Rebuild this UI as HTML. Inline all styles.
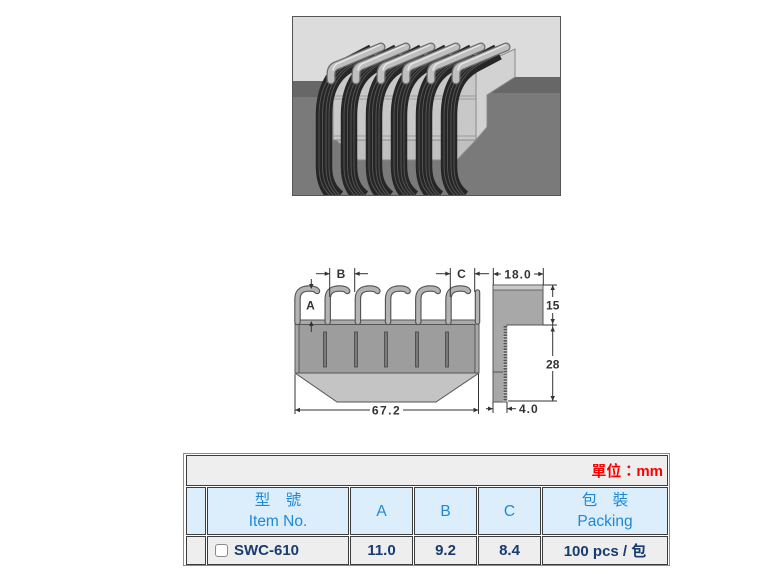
<!DOCTYPE html>
<html><head><meta charset="utf-8">
<style>
html,body{margin:0;padding:0;background:#fff;width:765px;height:574px;overflow:hidden;position:relative;font-family:"Liberation Sans","Noto Sans CJK TC",sans-serif;}
.c{position:absolute;box-sizing:border-box;border:1px solid #3c3c3c;display:flex;align-items:center;justify-content:center;text-align:center;}
.h{background:#dceefc;color:#1e88d8;font-size:15.5px;line-height:21px;}
.r{background:#eeeeee;color:#183b70;font-weight:bold;font-size:15px;}
.cb{display:inline-block;width:11px;height:11px;border:1px solid #8a8a8a;border-radius:3px;background:#fff;margin-right:6px;}
svg text{font-family:"Liberation Sans",sans-serif;font-weight:bold;fill:#333;}
</style></head><body>
<svg width="765" height="574" style="position:absolute;left:0;top:0" xmlns="http://www.w3.org/2000/svg">
<defs>
<clipPath id="ci"><rect x="293" y="17" width="267" height="178"/></clipPath>
<path id="bp" d="M373 52 L352 63 C334 72 324 88 324 116 L324 166 C324 182 329 191 338 198"/>
</defs>
<!-- TOP ILLUSTRATION -->
<g clip-path="url(#ci)">
<rect x="293" y="17" width="267" height="178" fill="#dcdcdc"/>
<rect x="293" y="81" width="200" height="16" fill="#676767"/>
<rect x="293" y="97" width="200" height="98" fill="#7a7a7a"/>
<rect x="487" y="77" width="73" height="16" fill="#676767"/>
<rect x="487" y="93" width="73" height="102" fill="#7a7a7a"/>
<rect x="333" y="72" width="143" height="68" fill="#c8c8c8" stroke="#8a8a8a"/>
<polygon points="336,140 476,140 457,160 358,160" fill="#c0c0c0" stroke="#8a8a8a"/>
<polygon points="476,67 515,49 515,77 487,95 487,127 476,140" fill="#d2d2d2" stroke="#8a8a8a"/>
<line x1="333" y1="96" x2="476" y2="96" stroke="#9a9a9a"/>
<line x1="333" y1="99" x2="476" y2="99" stroke="#9a9a9a"/>
<line x1="333" y1="136" x2="476" y2="136" stroke="#9a9a9a"/>
<g fill="none">
<g transform="translate(0,0)"><use href="#bp" stroke="#262626" stroke-width="16.5"/><g stroke="#575757" stroke-width="0.9"><use href="#bp" transform="translate(-5,0)"/><use href="#bp" transform="translate(-1.5,0)"/><use href="#bp" transform="translate(2,0)"/><use href="#bp" transform="translate(5,0)"/></g></g>
<g transform="translate(25,0)"><use href="#bp" stroke="#262626" stroke-width="16.5"/><g stroke="#575757" stroke-width="0.9"><use href="#bp" transform="translate(-5,0)"/><use href="#bp" transform="translate(-1.5,0)"/><use href="#bp" transform="translate(2,0)"/><use href="#bp" transform="translate(5,0)"/></g></g>
<g transform="translate(50,0)"><use href="#bp" stroke="#262626" stroke-width="16.5"/><g stroke="#575757" stroke-width="0.9"><use href="#bp" transform="translate(-5,0)"/><use href="#bp" transform="translate(-1.5,0)"/><use href="#bp" transform="translate(2,0)"/><use href="#bp" transform="translate(5,0)"/></g></g>
<g transform="translate(75,0)"><use href="#bp" stroke="#262626" stroke-width="16.5"/><g stroke="#575757" stroke-width="0.9"><use href="#bp" transform="translate(-5,0)"/><use href="#bp" transform="translate(-1.5,0)"/><use href="#bp" transform="translate(2,0)"/><use href="#bp" transform="translate(5,0)"/></g></g>
<g transform="translate(100,0)"><use href="#bp" stroke="#262626" stroke-width="16.5"/><g stroke="#575757" stroke-width="0.9"><use href="#bp" transform="translate(-5,0)"/><use href="#bp" transform="translate(-1.5,0)"/><use href="#bp" transform="translate(2,0)"/><use href="#bp" transform="translate(5,0)"/></g></g>
<g transform="translate(125,0)"><use href="#bp" stroke="#262626" stroke-width="16.5"/><g stroke="#575757" stroke-width="0.9"><use href="#bp" transform="translate(-5,0)"/><use href="#bp" transform="translate(-1.5,0)"/><use href="#bp" transform="translate(2,0)"/><use href="#bp" transform="translate(5,0)"/></g></g>
</g>
<g fill="none" stroke-linecap="round">
<g transform="translate(0,0)"><path d="M331 80 L331 74 Q331 67 338 65 L381 47" stroke="#6b6b6b" stroke-width="9"/><path d="M331 80 L331 74 Q331 67 338 65 L381 47" stroke="#bfbfbf" stroke-width="6.5"/><path d="M333 70 Q334 64 340 62.5 L380 45" stroke="#e6e6e6" stroke-width="1.5"/></g>
<g transform="translate(25,0)"><path d="M331 80 L331 74 Q331 67 338 65 L381 47" stroke="#6b6b6b" stroke-width="9"/><path d="M331 80 L331 74 Q331 67 338 65 L381 47" stroke="#bfbfbf" stroke-width="6.5"/><path d="M333 70 Q334 64 340 62.5 L380 45" stroke="#e6e6e6" stroke-width="1.5"/></g>
<g transform="translate(50,0)"><path d="M331 80 L331 74 Q331 67 338 65 L381 47" stroke="#6b6b6b" stroke-width="9"/><path d="M331 80 L331 74 Q331 67 338 65 L381 47" stroke="#bfbfbf" stroke-width="6.5"/><path d="M333 70 Q334 64 340 62.5 L380 45" stroke="#e6e6e6" stroke-width="1.5"/></g>
<g transform="translate(75,0)"><path d="M331 80 L331 74 Q331 67 338 65 L381 47" stroke="#6b6b6b" stroke-width="9"/><path d="M331 80 L331 74 Q331 67 338 65 L381 47" stroke="#bfbfbf" stroke-width="6.5"/><path d="M333 70 Q334 64 340 62.5 L380 45" stroke="#e6e6e6" stroke-width="1.5"/></g>
<g transform="translate(100,0)"><path d="M331 80 L331 74 Q331 67 338 65 L381 47" stroke="#6b6b6b" stroke-width="9"/><path d="M331 80 L331 74 Q331 67 338 65 L381 47" stroke="#bfbfbf" stroke-width="6.5"/><path d="M333 70 Q334 64 340 62.5 L380 45" stroke="#e6e6e6" stroke-width="1.5"/></g>
<g transform="translate(125,0)"><path d="M331 80 L331 74 Q331 67 338 65 L381 47" stroke="#6b6b6b" stroke-width="9"/><path d="M331 80 L331 74 Q331 67 338 65 L381 47" stroke="#bfbfbf" stroke-width="6.5"/><path d="M333 70 Q334 64 340 62.5 L380 45" stroke="#e6e6e6" stroke-width="1.5"/></g>
</g>
</g>
<rect x="292.5" y="16.5" width="268" height="179" fill="none" stroke="#555"/>

<!-- FRONT VIEW -->
<polygon points="295,320 479,320 479,373 436,402 337,402 295,373" fill="#c4c4c4" stroke="#555"/>
<rect x="295" y="320" width="184" height="53" fill="#aaaaaa" stroke="#555"/>
<rect x="299" y="324.5" width="176" height="48.5" fill="#9d9d9d" stroke="#555"/>
<g fill="#7a7a7a" stroke="#444" stroke-width="0.8">
<rect x="323.5" y="332" width="3" height="35"/>
<rect x="354.5" y="332" width="3" height="35"/>
<rect x="384.5" y="332" width="3" height="35"/>
<rect x="415.5" y="332" width="3" height="35"/>
<rect x="445.5" y="332" width="3" height="35"/>
</g>
<g fill="none" stroke-linecap="round">
<g transform="translate(0,0)"><path d="M297.5 322 L297.5 299 C297.5 291 302.5 288.5 309.5 288.5 C313.5 288.5 316 289.5 317 291" stroke="#555" stroke-width="6.5"/><path d="M297.5 322 L297.5 299 C297.5 291 302.5 288.5 309.5 288.5 C313.5 288.5 316 289.5 317 291" stroke="#b3b3b3" stroke-width="4.2"/></g>
<g transform="translate(30.2,0)"><path d="M297.5 322 L297.5 299 C297.5 291 302.5 288.5 309.5 288.5 C313.5 288.5 316 289.5 317 291" stroke="#555" stroke-width="6.5"/><path d="M297.5 322 L297.5 299 C297.5 291 302.5 288.5 309.5 288.5 C313.5 288.5 316 289.5 317 291" stroke="#b3b3b3" stroke-width="4.2"/></g>
<g transform="translate(60.4,0)"><path d="M297.5 322 L297.5 299 C297.5 291 302.5 288.5 309.5 288.5 C313.5 288.5 316 289.5 317 291" stroke="#555" stroke-width="6.5"/><path d="M297.5 322 L297.5 299 C297.5 291 302.5 288.5 309.5 288.5 C313.5 288.5 316 289.5 317 291" stroke="#b3b3b3" stroke-width="4.2"/></g>
<g transform="translate(90.6,0)"><path d="M297.5 322 L297.5 299 C297.5 291 302.5 288.5 309.5 288.5 C313.5 288.5 316 289.5 317 291" stroke="#555" stroke-width="6.5"/><path d="M297.5 322 L297.5 299 C297.5 291 302.5 288.5 309.5 288.5 C313.5 288.5 316 289.5 317 291" stroke="#b3b3b3" stroke-width="4.2"/></g>
<g transform="translate(120.8,0)"><path d="M297.5 322 L297.5 299 C297.5 291 302.5 288.5 309.5 288.5 C313.5 288.5 316 289.5 317 291" stroke="#555" stroke-width="6.5"/><path d="M297.5 322 L297.5 299 C297.5 291 302.5 288.5 309.5 288.5 C313.5 288.5 316 289.5 317 291" stroke="#b3b3b3" stroke-width="4.2"/></g>
<g transform="translate(151,0)"><path d="M297.5 322 L297.5 299 C297.5 291 302.5 288.5 309.5 288.5 C313.5 288.5 316 289.5 317 291" stroke="#555" stroke-width="6.5"/><path d="M297.5 322 L297.5 299 C297.5 291 302.5 288.5 309.5 288.5 C313.5 288.5 316 289.5 317 291" stroke="#b3b3b3" stroke-width="4.2"/></g>
<path d="M477.5 322 L477.5 292" stroke="#555" stroke-width="5.5"/>
<path d="M477.5 322 L477.5 292" stroke="#b3b3b3" stroke-width="3.2"/>
</g>

<!-- SIDE VIEW -->
<polygon points="493,285 543,285 543,325 507,325 507,402 493,402" fill="#a8a8a8" stroke="#555"/>
<rect x="493" y="285" width="50" height="5" fill="#c9c9c9" stroke="#555" stroke-width="0.8"/>
<line x1="493" y1="372" x2="505" y2="372" stroke="#555"/>
<rect x="503" y="326" width="4.5" height="76" fill="#c0c0c0"/>
<line x1="505.2" y1="326" x2="505.2" y2="402" stroke="#555" stroke-width="3.5" stroke-dasharray="1.6 1.2"/>

<!-- DIMENSIONS -->
<g stroke="#333" stroke-width="1" fill="none">
<line x1="295" y1="374" x2="295" y2="414"/><line x1="478.5" y1="374" x2="478.5" y2="414"/>
<line x1="295" y1="410" x2="370" y2="410"/><line x1="403" y1="410" x2="478.5" y2="410"/>
<line x1="311.3" y1="279" x2="311.3" y2="288"/><line x1="311.3" y1="322" x2="311.3" y2="332"/>
<line x1="316" y1="273.7" x2="329.7" y2="273.7"/><line x1="329.7" y1="268" x2="329.7" y2="297"/>
<line x1="354.7" y1="268" x2="354.7" y2="292"/><line x1="354.7" y1="273.7" x2="368" y2="273.7"/>
<line x1="436" y1="273.7" x2="450.3" y2="273.7"/><line x1="450.3" y1="268" x2="450.3" y2="297"/>
<line x1="474.7" y1="268" x2="474.7" y2="292"/><line x1="474.7" y1="273.7" x2="489" y2="273.7"/>
<line x1="493.3" y1="268" x2="493.3" y2="285"/><line x1="543.3" y1="268" x2="543.3" y2="285"/>
<line x1="493.3" y1="274" x2="501" y2="274"/><line x1="534" y1="274" x2="543.3" y2="274"/>
<line x1="543" y1="285" x2="557" y2="285"/><line x1="543" y1="325" x2="557" y2="325"/>
<line x1="508" y1="401" x2="557" y2="401"/>
<line x1="552.7" y1="285" x2="552.7" y2="297"/><line x1="552.7" y1="313" x2="552.7" y2="325"/>
<line x1="552.7" y1="325" x2="552.7" y2="356"/><line x1="552.7" y1="371" x2="552.7" y2="401"/>
<line x1="493" y1="402" x2="493" y2="413"/><line x1="507" y1="402" x2="507" y2="413"/>
<line x1="486" y1="408.7" x2="493" y2="408.7"/><line x1="507" y1="408.7" x2="516" y2="408.7"/>
</g>
<g fill="#333">
<polygon points="295,410 300,407.8 300,412.2"/>
<polygon points="478.5,410 473.5,407.8 473.5,412.2"/>
<polygon points="311.3,289 309.1,284 313.5,284"/>
<polygon points="311.3,321 309.1,326 313.5,326"/>
<polygon points="329.7,273.7 324.7,271.5 324.7,275.9"/>
<polygon points="354.7,273.7 359.7,271.5 359.7,275.9"/>
<polygon points="450.3,273.7 445.3,271.5 445.3,275.9"/>
<polygon points="474.7,273.7 479.7,271.5 479.7,275.9"/>
<polygon points="493.3,274 498.3,271.8 498.3,276.2"/>
<polygon points="543.3,274 538.3,271.8 538.3,276.2"/>
<polygon points="552.7,285 550.5,290 554.9,290"/>
<polygon points="552.7,324 550.5,319 554.9,319"/>
<polygon points="552.7,326.5 550.5,331.5 554.9,331.5"/>
<polygon points="552.7,401 550.5,396 554.9,396"/>
<polygon points="493,408.7 488,406.5 488,410.9"/>
<polygon points="507,408.7 512,406.5 512,410.9"/>
</g>
<g font-size="12">
<text x="386.5" y="414.5" text-anchor="middle" letter-spacing="1.5">67.2</text>
<text x="310.5" y="309.5" text-anchor="middle">A</text>
<text x="341" y="278" text-anchor="middle">B</text>
<text x="461.5" y="278" text-anchor="middle">C</text>
<text x="518" y="278.5" text-anchor="middle" letter-spacing="1">18.0</text>
<text x="552.7" y="309.5" text-anchor="middle">15</text>
<text x="552.7" y="368.5" text-anchor="middle">28</text>
<text x="519" y="413" letter-spacing="1">4.0</text>
</g>
</svg>

<!-- TABLE -->
<div style="position:absolute;left:183px;top:453px;width:487px;height:113px;border:1px solid #8c8c8c;box-sizing:border-box"></div>
<div class="c r" style="left:186px;top:455px;width:482px;height:31px;justify-content:flex-end;padding-right:4px;color:#ff0000;">單位：mm</div>

<div class="c h" style="left:186px;top:487px;width:20px;height:48px;"></div>
<div class="c h" style="left:207px;top:487px;width:142px;height:48px;"><div>型　號<br>Item No.</div></div>
<div class="c h" style="left:350px;top:487px;width:63px;height:48px;">A</div>
<div class="c h" style="left:414px;top:487px;width:63px;height:48px;">B</div>
<div class="c h" style="left:478px;top:487px;width:63px;height:48px;">C</div>
<div class="c h" style="left:542px;top:487px;width:126px;height:48px;"><div>包　裝<br>Packing</div></div>

<div class="c r" style="left:186px;top:536px;width:20px;height:29px;"></div>
<div class="c r" style="left:207px;top:536px;width:142px;height:29px;justify-content:flex-start;padding-left:7px;"><span class="cb"></span>SWC-610</div>
<div class="c r" style="left:350px;top:536px;width:63px;height:29px;">11.0</div>
<div class="c r" style="left:414px;top:536px;width:63px;height:29px;">9.2</div>
<div class="c r" style="left:478px;top:536px;width:63px;height:29px;">8.4</div>
<div class="c r" style="left:542px;top:536px;width:126px;height:29px;">100 pcs / 包</div>
</body></html>
